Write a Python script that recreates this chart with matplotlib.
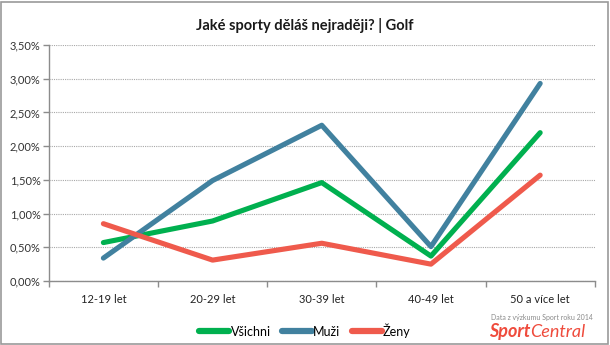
import matplotlib
matplotlib.use("Agg")
import matplotlib.pyplot as plt
from matplotlib.ticker import FuncFormatter, MultipleLocator, FixedLocator
from matplotlib.patches import Rectangle

plt.rcParams['font.family'] = ['Lato', 'DejaVu Sans']

categories = ["12-19 let", "20-29 let", "30-39 let", "40-49 let", "50 a více let"]
vsichni = [0.57, 0.89, 1.46, 0.37, 2.20]
muzi = [0.34, 1.49, 2.31, 0.51, 2.93]
zeny = [0.85, 0.31, 0.56, 0.25, 1.57]

series = [("Všichni", vsichni, "#00B04F"),
          ("Muži", muzi, "#41819F"),
          ("Ženy", zeny, "#EF5A4C")]

fig = plt.figure(figsize=(6.1, 3.45), dpi=100)
ax = fig.add_axes([0.080, 0.1855, 0.895, 0.684])

x = list(range(len(categories)))
for name, vals, col in series:
    ax.plot(x, vals, color=col, lw=3.7, solid_capstyle="round",
            solid_joinstyle="round", label=name)

ax.set_xlim(-0.5, len(categories) - 0.5)
ax.set_ylim(0, 3.5)
ax.yaxis.set_major_locator(MultipleLocator(0.5))
ax.yaxis.set_major_formatter(FuncFormatter(lambda v, p: f"{v:.2f}%".replace(".", ",")))
ax.set_xticks(x)
ax.set_xticklabels(categories)
ax.xaxis.set_minor_locator(FixedLocator([i - 0.5 for i in range(len(categories) + 1)]))
ax.tick_params(axis="x", which="major", length=0, pad=9, labelsize=8, colors="#222222")
ax.tick_params(axis="x", which="minor", length=4, color="#8c8c8c", width=1)
ax.tick_params(axis="y", length=4, color="#8c8c8c", width=1, labelsize=8,
               labelcolor="#333333", pad=2)

ax.grid(axis="y", color="#a8a8a8", linestyle=(0, (1, 1)), lw=0.8)
ax.set_axisbelow(True)
for s in ["top", "right"]:
    ax.spines[s].set_visible(False)
for s in ["left", "bottom"]:
    ax.spines[s].set_color("#8c8c8c")
    ax.spines[s].set_linewidth(1)

fig.text(0.5, 0.925, "Jaké sporty děláš nejraději? | Golf", ha="center", va="center",
         fontsize=10.5, fontweight="bold", color="#1a1a1a")

leg = fig.legend(loc="center", bbox_to_anchor=(0.5, 0.042), ncol=3, frameon=False,
                 fontsize=9, handlelength=2.4, handletextpad=0.1, columnspacing=0.9)
for line in leg.get_lines():
    line.set_linewidth(4.5)
    line.set_solid_capstyle("round")

fig.text(0.972, 0.081, "Data z výzkumu Sport roku 2014", ha="right", va="center",
         fontsize=5, color="#8a8a8a")
t1 = fig.text(0.801, 0.038, "Sport", ha="left", va="center", fontsize=13,
              fontweight="bold", fontstyle="italic", color="#EF4B3C")
fig.canvas.draw()
bb = t1.get_window_extent()
x1 = fig.transFigure.inverted().transform((bb.x1, bb.y0))[0]
fig.text(x1, 0.038, "Central", ha="left", va="center", fontsize=13,
         fontstyle="italic", color="#EF4B3C")

fig.patches.append(Rectangle((0.002, 0.004), 0.994, 0.99, transform=fig.transFigure,
                             fill=False, edgecolor="#9a9a9a", lw=1.2))

fig.savefig("out.png", dpi=100)
